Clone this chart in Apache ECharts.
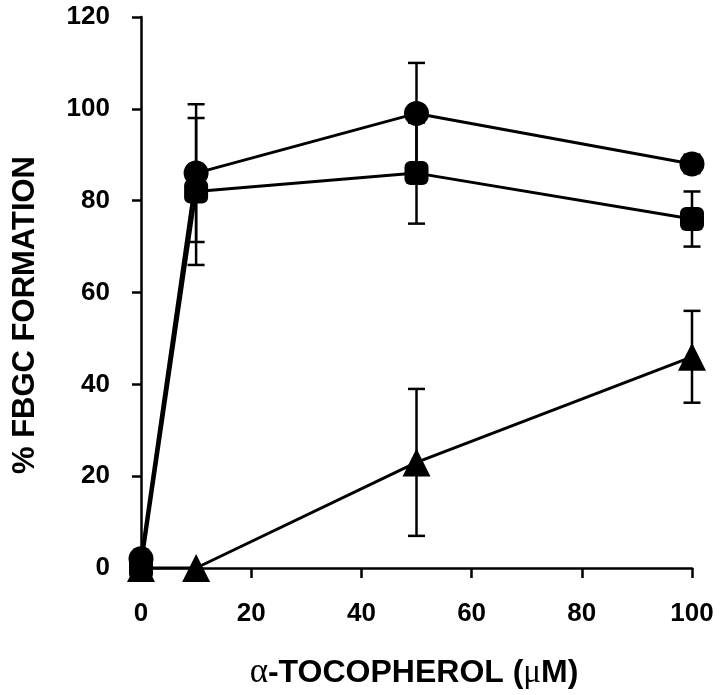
<!DOCTYPE html>
<html>
<head>
<meta charset="utf-8">
<script src="https://cdn.jsdelivr.net/npm/echarts@6/dist/echarts.min.js"></script>
<style>html,body{margin:0;padding:0;background:#fff}#chart{width:720px;height:695px}</style>
</head>
<body>
<div id="chart"></div>
<script>
// Data
const xValues = [0, 10, 50, 100];
const circleVals = [2, 86, 99, 88];
const circleErr = [0, 15, 11, 2];
const squareVals = [0, 82, 86, 76];
const squareErr = [0, 16, 11, 6];
const triangleVals = [0, 0, 23, 46];
const triangleErr = [0, 0, 16, 10];
const xTicks = [0, 20, 40, 60, 80, 100];
const yTicks = [0, 20, 40, 60, 80, 100, 120];
const xTitle = 'α-TOCOPHEROL (μM)';
const yTitle = '% FBGC FORMATION';

const FONT = '"Liberation Sans", Arial, Helvetica, sans-serif';

function pairs(vals) { return xValues.map((x, i) => [x, vals[i]]); }
function errData(vals, errs) { return xValues.map((x, i) => [x, vals[i] - errs[i], vals[i] + errs[i]]); }

function errSeries(vals, errs) {
  return {
    type: 'custom',
    z: 1,
    silent: true,
    data: errData(vals, errs),
    renderItem: function (params, api) {
      const x = api.value(0), lo = api.value(1), hi = api.value(2);
      if (hi - lo <= 0) return null;
      const pLo = api.coord([x, lo]), pHi = api.coord([x, hi]);
      const hw = 8.5;
      const style = { stroke: '#000', lineWidth: 2.5, fill: null };
      return {
        type: 'group',
        children: [
          { type: 'line', shape: { x1: pLo[0], y1: pLo[1], x2: pHi[0], y2: pHi[1] }, style: style },
          { type: 'line', shape: { x1: pLo[0] - hw, y1: pLo[1], x2: pLo[0] + hw, y2: pLo[1] }, style: style },
          { type: 'line', shape: { x1: pHi[0] - hw, y1: pHi[1], x2: pHi[0] + hw, y2: pHi[1] }, style: style }
        ]
      };
    }
  };
}

function lineSeries(vals, symbol, size) {
  return {
    type: 'line',
    z: 3,
    data: pairs(vals),
    symbol: symbol,
    symbolSize: size,
    showAllSymbol: true,
    lineStyle: { color: '#000', width: 3 },
    itemStyle: { color: '#000', borderWidth: 0 },
    emphasis: { disabled: true },
    animation: false
  };
}

const chart = echarts.init(document.getElementById('chart'), null, { renderer: 'canvas' });
chart.setOption({
  backgroundColor: '#fff',
  animation: false,
  grid: { left: 141, right: 28, top: 17, bottom: 127 },
  xAxis: {
    type: 'value',
    min: xTicks[0],
    max: xTicks[xTicks.length - 1],
    interval: xTicks[1] - xTicks[0],
    axisLine: { show: true, lineStyle: { color: '#000', width: 2.5 } },
    axisTick: { show: true, inside: false, length: 10, lineStyle: { color: '#000', width: 2.5 } },
    splitLine: { show: false },
    axisLabel: { color: '#000', fontFamily: FONT, fontWeight: 'bold', fontSize: 26, margin: 33 }
  },
  yAxis: {
    type: 'value',
    min: yTicks[0],
    max: yTicks[yTicks.length - 1],
    interval: yTicks[1] - yTicks[0],
    offset: 4,
    axisLine: { show: true, lineStyle: { color: '#000', width: 2.5 } },
    axisTick: { show: true, inside: false, length: 9, lineStyle: { color: '#000', width: 2.5 } },
    splitLine: { show: false },
    axisLabel: { color: '#000', fontFamily: FONT, fontWeight: 'bold', fontSize: 26, margin: 27 }
  },
  graphic: [
    {
      type: 'text',
      x: 414, y: 673,
      style: {
        text: '{a|α}{b|-TOCOPHEROL (}{c|μ}{b|M)}',
        rich: {
          a: { fontFamily: '"Liberation Serif", "DejaVu Serif", serif', fontSize: 35, fill: '#000' },
          b: { fontFamily: FONT, fontWeight: 'bold', fontSize: 32, fill: '#000' },
          c: { fontFamily: '"Liberation Serif", "DejaVu Serif", serif', fontSize: 33, fill: '#000' }
        },
        align: 'center', verticalAlign: 'middle'
      }
    },
    {
      type: 'text',
      x: 25, y: 315,
      rotation: Math.PI / 2,
      style: {
        text: yTitle,
        fontFamily: FONT, fontWeight: 'bold', fontSize: 31, fill: '#000',
        align: 'center', verticalAlign: 'middle'
      }
    }
  ],
  series: [
    errSeries(circleVals, circleErr),
    errSeries(squareVals, squareErr),
    errSeries(triangleVals, triangleErr),
    lineSeries(triangleVals, 'triangle', 28),
    lineSeries(squareVals, 'roundRect', 24),
    lineSeries(circleVals, 'circle', 25)
  ]
});
</script>
</body>
</html>
